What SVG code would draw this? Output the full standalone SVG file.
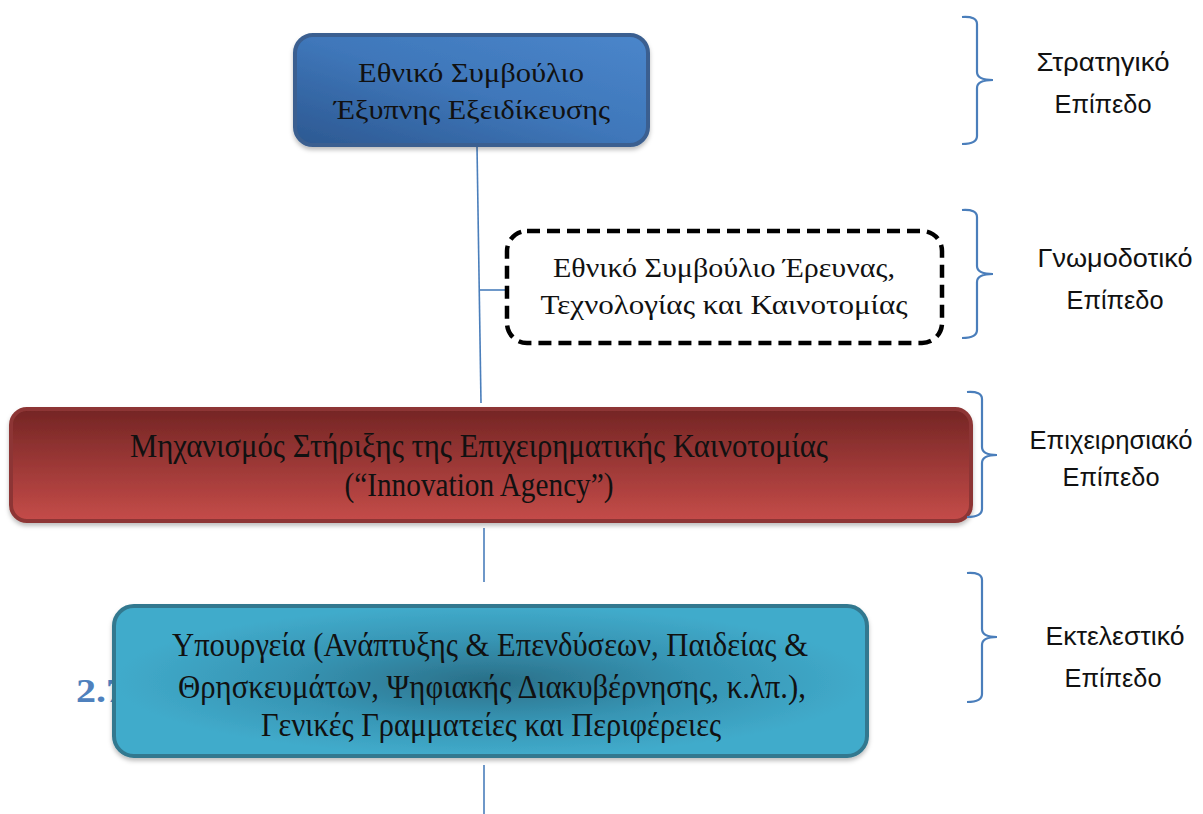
<svg xmlns="http://www.w3.org/2000/svg" width="1203" height="814" viewBox="0 0 1203 814">
<style>
.serif{font-family:"Liberation Serif","DejaVu Serif",serif;fill:#111;text-anchor:middle}
.lbl{font-family:"Liberation Sans","DejaVu Sans",sans-serif;font-size:25px;fill:#111;text-anchor:middle}
.conn{stroke:#4a7ebb;stroke-width:1.6;fill:none}
.brace{stroke:#4a7ebb;stroke-width:2.2;fill:none}
</style>
<defs>
<linearGradient id="gBlue" x1="0" y1="1" x2="1" y2="0">
<stop offset="0" stop-color="#2c5891"/>
<stop offset="0.5" stop-color="#3f77ba"/>
<stop offset="1" stop-color="#4a86cb"/>
</linearGradient>
<linearGradient id="gRed" x1="0" y1="0" x2="0" y2="1">
<stop offset="0" stop-color="#742524"/>
<stop offset="1" stop-color="#c54c49"/>
</linearGradient>
<radialGradient id="gCyan" cx="0.5" cy="0.5" r="0.5">
<stop offset="0" stop-color="#2a6f88"/>
<stop offset="0.55" stop-color="#3795b4"/>
<stop offset="1" stop-color="#41abcb"/>
</radialGradient>
<filter id="sh" x="-5%" y="-10%" width="110%" height="125%">
<feDropShadow dx="0" dy="3" stdDeviation="2" flood-color="#000" flood-opacity="0.25"/>
</filter>
</defs>

<text x="76" y="702" font-family="Liberation Serif,serif" font-weight="bold" font-size="34" fill="#4f81bd" textLength="50" lengthAdjust="spacingAndGlyphs">2.7</text>

<g id="connectors">
<line class="conn" x1="477" y1="146" x2="481" y2="403"/>
<line class="conn" x1="479" y1="290" x2="506" y2="290"/>
<line class="conn" x1="484" y1="528" x2="484" y2="582"/>
<line class="conn" x1="484" y1="765" x2="484" y2="814"/>
</g>

<g id="node-strategic">
<rect x="295" y="35" width="353" height="110" rx="18" fill="url(#gBlue)" stroke="#3a5f90" stroke-width="4" filter="url(#sh)"/>
<text class="serif" x="471" y="82" font-size="28" textLength="226" lengthAdjust="spacingAndGlyphs">Εθνικό Συμβούλιο</text>
<text class="serif" x="472" y="119" font-size="28" textLength="276" lengthAdjust="spacingAndGlyphs">Έξυπνης Εξειδίκευσης</text>
</g>

<g id="node-advisory">
<rect x="507" y="231" width="435" height="112" rx="20" fill="#fff" stroke="#000" stroke-width="4.5" stroke-dasharray="13 7"/>
<text class="serif" x="724" y="277" font-size="28" textLength="342" lengthAdjust="spacingAndGlyphs">Εθνικό Συμβούλιο Έρευνας,</text>
<text class="serif" x="724" y="314" font-size="28" textLength="367" lengthAdjust="spacingAndGlyphs">Τεχνολογίας και Καινοτομίας</text>
</g>

<g id="node-operational">
<rect x="11" y="409" width="960" height="112" rx="16" fill="url(#gRed)" stroke="#8d3634" stroke-width="4" filter="url(#sh)"/>
<text class="serif" x="479" y="457" font-size="33" textLength="698" lengthAdjust="spacingAndGlyphs">Μηχανισμός Στήριξης της Επιχειρηματικής Καινοτομίας</text>
<text class="serif" x="479" y="496" font-size="33" textLength="269" lengthAdjust="spacingAndGlyphs">(“Innovation Agency”)</text>
</g>

<g id="node-executive">
<rect x="114" y="606" width="753" height="150" rx="20" fill="url(#gCyan)" stroke="#31788f" stroke-width="4" filter="url(#sh)"/>
<text class="serif" x="490" y="656" font-size="33" textLength="636" lengthAdjust="spacingAndGlyphs">Υπουργεία (Ανάπτυξης &amp; Επενδύσεων, Παιδείας &amp;</text>
<text class="serif" x="492" y="698" font-size="33" textLength="628" lengthAdjust="spacingAndGlyphs">Θρησκευμάτων, Ψηφιακής Διακυβέρνησης, κ.λπ.),</text>
<text class="serif" x="491" y="736" font-size="33" textLength="460" lengthAdjust="spacingAndGlyphs">Γενικές Γραμματείες και Περιφέρειες</text>
</g>

<g id="level-strategic">
<path class="brace" d="M962,17 Q977,16 977,24 L977,72 Q977,80 993,80 Q977,80 977,88 L977,136 Q977,144 962,144"/>
<text class="lbl" x="1103" y="71" textLength="133" lengthAdjust="spacingAndGlyphs">Στρατηγικό</text>
<text class="lbl" x="1103" y="113" textLength="97" lengthAdjust="spacingAndGlyphs">Επίπεδο</text>
</g>

<g id="level-advisory">
<path class="brace" d="M962,210 Q977,209 977,217 L977,266 Q977,274 993,274 Q977,274 977,282 L977,330 Q977,338 962,338"/>
<text class="lbl" x="1115" y="267" textLength="155" lengthAdjust="spacingAndGlyphs">Γνωμοδοτικό</text>
<text class="lbl" x="1115" y="309" textLength="97" lengthAdjust="spacingAndGlyphs">Επίπεδο</text>
</g>

<g id="level-operational">
<path class="brace" d="M967,392 Q982,391 982,399 L982,447 Q982,455 997,455 Q982,455 982,463 L982,509 Q982,517 967,517"/>
<text class="lbl" x="1111" y="449" textLength="163" lengthAdjust="spacingAndGlyphs">Επιχειρησιακό</text>
<text class="lbl" x="1111" y="486" textLength="97" lengthAdjust="spacingAndGlyphs">Επίπεδο</text>
</g>

<g id="level-executive">
<path class="brace" d="M967,573 Q982,572 982,580 L982,629 Q982,637 997,637 Q982,637 982,645 L982,694 Q982,702 967,702"/>
<text class="lbl" x="1115" y="645" textLength="139" lengthAdjust="spacingAndGlyphs">Εκτελεστικό</text>
<text class="lbl" x="1113" y="687" textLength="97" lengthAdjust="spacingAndGlyphs">Επίπεδο</text>
</g>
</svg>
